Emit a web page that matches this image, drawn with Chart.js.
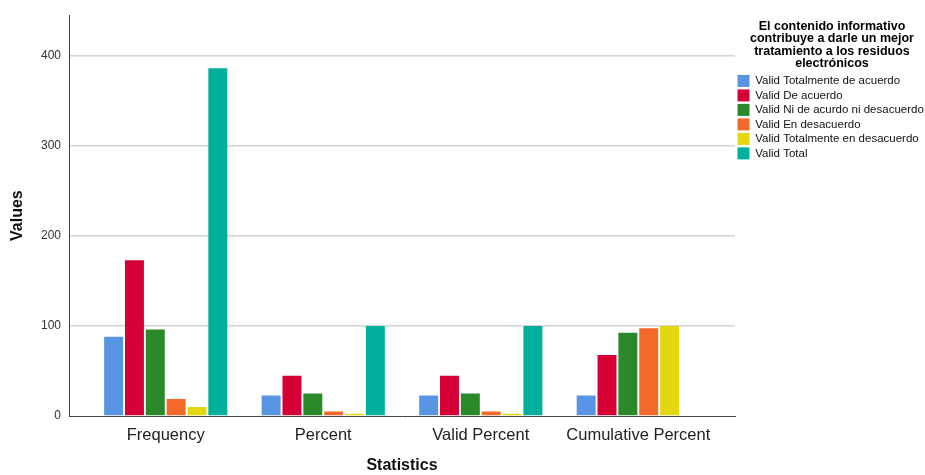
<!DOCTYPE html>
<html>
<head>
<meta charset="utf-8">
<script src="https://cdn.jsdelivr.net/npm/chart.js@4.4.1/dist/chart.umd.min.js"></script>
<style>
  body { margin: 0; background: #fff; }
  canvas { display: block; }
</style>
</head>
<body>
<canvas id="chart" width="925" height="475"></canvas>
<script>
// categories along the x axis
const categories = ["Frequency", "Percent", "Valid Percent", "Cumulative Percent"];

// one series per answer
const totalmenteDeAcuerdo = [88, 22.8, 22.8, 22.8];
const deAcuerdo = [173, 44.8, 44.8, 67.6];
const niDeAcuerdo = [96, 24.9, 24.9, 92.5];
const enDesacuerdo = [19, 4.9, 4.9, 97.4];
const totalmenteEnDesacuerdo = [10, 2.6, 2.6, 100];
const total = [386, 100, 100, null];

const seriesNames = [
  "Valid Totalmente de acuerdo",
  "Valid De acuerdo",
  "Valid Ni de acurdo ni desacuerdo",
  "Valid En desacuerdo",
  "Valid Totalmente en desacuerdo",
  "Valid Total"
];
const yTicks = [0, 100, 200, 300, 400];

const legendTitle = [
  "El contenido informativo",
  "contribuye a darle un mejor",
  "tratamiento a los residuos",
  "electrónicos"
];

const colors = ["#5895e5", "#d60036", "#2a8a2a", "#f4692a", "#e4d60f", "#00b09e"];
const seriesData = [totalmenteDeAcuerdo, deAcuerdo, niDeAcuerdo, enDesacuerdo, totalmenteEnDesacuerdo, total];

const FONT = "'Liberation Sans', Arial, sans-serif";

// draws the multi-line legend heading in the space reserved by the legend title
const legendTitlePlugin = {
  id: "legendTitleLines",
  afterDraw(chart) {
    const lg = chart.legend;
    const ctx = chart.ctx;
    ctx.save();
    ctx.font = "bold 12.5px " + FONT;
    ctx.fillStyle = "#000";
    ctx.textAlign = "center";
    ctx.textBaseline = "middle";
    const cx = (lg.left + lg.right) / 2 + 2;
    legendTitle.forEach((line, i) => {
      ctx.fillText(line, cx, 26.7 + i * 12.3);
    });
    ctx.restore();
  }
};

new Chart(document.getElementById("chart"), {
  type: "bar",
  data: {
    labels: categories.map((c, i) => i),
    datasets: seriesData.map((d, i) => ({
      label: seriesNames[i],
      data: d,
      backgroundColor: colors[i],
      borderWidth: 0,
      categoryPercentage: 0.794,
      barPercentage: 0.91
    }))
  },
  options: {
    responsive: false,
    animation: false,
    layout: { padding: { top: 15, left: 0, right: 0, bottom: 0 } },
    plugins: {
      tooltip: { enabled: false },
      legend: {
        position: "right",
        align: "start",
        maxWidth: 190,
        title: {
          display: true,
          text: " ",
          font: { family: FONT, size: 12.5, weight: "bold" },
          padding: { top: 0, bottom: 42.4 }
        },
        labels: {
          boxWidth: 12,
          boxHeight: 12,
          padding: 2.5,
          color: "#111",
          font: { family: FONT, size: 11.5, lineHeight: 1.05 }
        }
      }
    },
    scales: {
      x: {
        type: "linear",
        offset: false,
        min: -0.614,
        max: 3.614,
        grid: { display: false, drawTicks: false, offset: false },
        border: { display: true, color: "#444", width: 1 },
        afterBuildTicks: (scale) => {
          scale.ticks = categories.map((c, i) => ({ value: i }));
        },
        ticks: {
          autoSkip: false,
          maxRotation: 0,
          padding: 10,
          color: "#222",
          font: { family: FONT, size: 16.5 },
          callback: (v) => categories[v]
        },
        title: {
          display: true,
          text: "Statistics",
          color: "#111",
          font: { family: FONT, size: 16, weight: "bold" },
          padding: { top: 0, bottom: 0 }
        }
      },
      y: {
        min: 0,
        max: 445,
        afterFit: (scale) => { scale.width = 69; },
        afterBuildTicks: (scale) => {
          scale.ticks = yTicks.map(v => ({ value: v }));
        },
        grid: {
          drawTicks: false,
          lineWidth: 1.5,
          color: (c) => (c.tick && c.tick.value === 0 ? "rgba(0,0,0,0)" : "#d4d4d4")
        },
        border: { display: true, color: "#444", width: 1 },
        ticks: {
          padding: 8,
          color: "#333",
          font: { family: FONT, size: 12 }
        },
        title: {
          display: true,
          text: "Values",
          color: "#111",
          font: { family: FONT, size: 16, weight: "bold" },
          padding: { top: 8, bottom: 0 }
        }
      }
    }
  },
  plugins: [legendTitlePlugin]
});
</script>
</body>
</html>
